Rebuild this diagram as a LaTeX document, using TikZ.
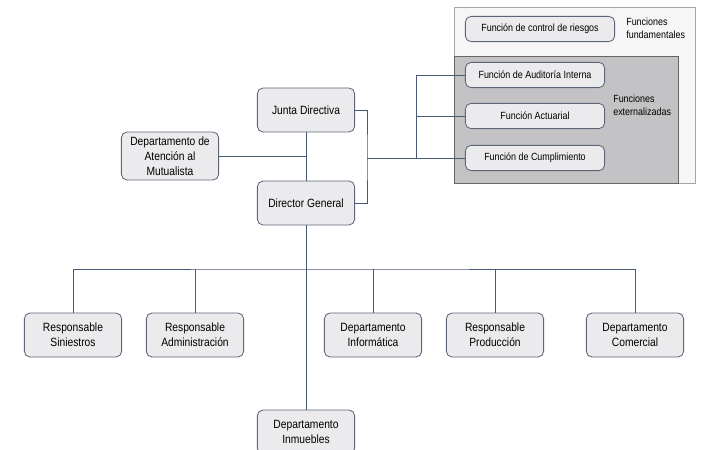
\documentclass[tikz,border=0pt]{standalone}
\usepackage{fontspec}
\setmainfont{Liberation Sans}[FakeStretch=0.86]
\usepackage{xcolor}
\usepackage{tikz}
\definecolor{linecol}{HTML}{4A5878}
\definecolor{boxfill}{HTML}{EBEBED}
\definecolor{boxdraw}{HTML}{5C6678}
\definecolor{fundfill}{HTML}{F6F6F6}
\definecolor{extfill}{HTML}{C3C3C5}
\tikzset{
  unit/.style={draw=boxdraw, fill=boxfill, rounded corners=4pt, line width=0.6pt,
    align=center, minimum width=2.43cm, minimum height=1.1cm, inner sep=1pt,
    font=\fontsize{8.5}{10.8}\selectfont},
  funcion/.style={unit, minimum width=3.48cm, minimum height=0.63cm,
    font=\fontsize{7.4}{9}\selectfont},
  rama/.style={draw=linecol, line width=0.6pt},
  etiqueta/.style={anchor=west, align=left, inner sep=0pt, font=\fontsize{7.4}{9}\selectfont}
}

\begin{document}
\begin{tikzpicture}[x=0.025cm, y=-0.025cm]
    \useasboundingbox (0,0) rectangle (702,449);
    % marcos de funciones
    \draw[draw=gray!70, fill=fundfill, line width=0.6pt] (454,7) rectangle (695,183);
    \draw[draw=gray!80!black, fill=extfill, line width=0.6pt] (454,56) rectangle (678,183);
    \node[funcion, minimum width=3.73cm] (riesgos) at (540,29) {Función de control de riesgos};
    \node[etiqueta] (fundamentales) at (626,28) {Funciones\\fundamentales};
    \node[funcion] (auditoria) at (535,75) {Función de Auditoría Interna};
    \node[funcion] (actuarial) at (535,116) {Función Actuarial};
    \node[funcion] (cumplimiento) at (535,158) {Función de Cumplimiento};
    \node[etiqueta] (externalizadas) at (613,105) {Funciones\\externalizadas};
    % direccion
    \node[unit] (junta) at (306,110) {Junta Directiva};
    \node[unit] (director) at (306,203) {Director General};
    \node[unit, minimum height=1.2cm] (atencion) at (170,156) {Departamento de\\Atención al\\Mutualista};
    % departamentos
    \node[unit] (siniestros) at (73,335) {Responsable\\Siniestros};
    \node[unit] (administracion) at (195,335) {Responsable\\Administración};
    \node[unit] (informatica) at (373,335) {Departamento\\Informática};
    \node[unit] (produccion) at (495,335) {Responsable\\Producción};
    \node[unit] (comercial) at (635,335) {Departamento\\Comercial};
    \node[unit] (inmuebles) at (306,432) {Departamento\\Inmuebles};
    \coordinate (corchete) at (367,158);
    \coordinate (reparto) at (416,158);
    \coordinate (bus) at (306,269);
    \draw[rama] (junta.south) -- (director.north);
    \draw[rama] (atencion.east) -- (atencion.east -| junta.south);
    \draw[rama] (junta.east) -| (corchete) |- (director.east);
    \draw[rama] (corchete) -- (reparto);
    \draw[rama] (reparto) |- (auditoria.west);
    \draw[rama] (reparto |- actuarial.west) -- (actuarial.west);
    \draw[rama] (reparto) -- (cumplimiento.west);
    \draw[rama] (director.south) -- (inmuebles.north);
    \draw[rama] (siniestros.north) |- (bus) -| (comercial.north);
    \draw[rama] (administracion.north) -- (administracion.north |- bus);
    \draw[rama] (informatica.north) -- (informatica.north |- bus);
    \draw[rama] (produccion.north) -- (produccion.north |- bus);
\end{tikzpicture}
\end{document}
